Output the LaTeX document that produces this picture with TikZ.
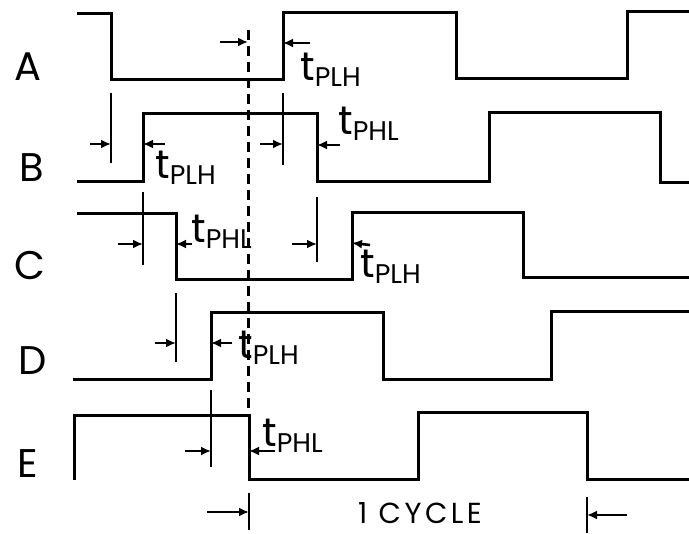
\documentclass[tikz,border=0pt]{standalone}
\usepackage{fontspec}
\setmainfont{Poppins}
\usetikzlibrary{arrows.meta}
\begin{document}
\begin{tikzpicture}[x=1pt,y=-1pt,
  wave/.style={line width=3pt,line join=miter},
  tick/.style={line width=2.6pt},
  meas/.style={line width=2.6pt,-{Latex[length=10pt,width=9pt]}},
  sig/.style={font=\fontsize{40}{40}\selectfont,inner sep=0pt},
  tlab/.style={anchor=west,inner sep=0pt,font=\fontsize{40}{40}\selectfont},
  cyc/.style={font=\fontsize{29}{29}\selectfont\addfontfeatures{LetterSpace=12},inner sep=0pt}]
\useasboundingbox (0,0) rectangle (689,534);
\fill[white] (0,0) rectangle (689,534);
\newcommand{\tp}[1]{t\raisebox{-0.16em}{\fontsize{27}{27}\selectfont #1}}
% signal names
\node[sig] (lA) at (28,67) {A};
\node[sig] (lB) at (32,168) {B};
\node[sig] (lC) at (30,266) {C};
\node[sig] (lD) at (33,361) {D};
\node[sig] (lE) at (28,464) {E};
% waveforms
\draw[wave] (77,14) -- (111,14) -- (111,80) -- (283,80) -- (283,13) -- (456,13) -- (456,79) -- (627,79) -- (627,12) -- (689,12);
\draw[wave] (77,182) -- (143,182) -- (143,114) -- (317,114) -- (317,182) -- (489,182) -- (489,113) -- (660,113) -- (660,183) -- (689,183);
\draw[wave] (77,214) -- (176,214) -- (176,280) -- (352,280) -- (352,213) -- (523,213) -- (523,278) -- (689,278);
\draw[wave] (73,380) -- (211,380) -- (211,313) -- (383,313) -- (383,380) -- (551,380) -- (551,312) -- (689,312);
\draw[wave] (74,480) -- (74,416) -- (249,416) -- (249,480) -- (418,480) -- (418,413) -- (587,413) -- (587,480) -- (689,480);
% dashed reference line
\coordinate (dT) at (248,30);
\coordinate (dB) at (248,412);
\draw[line width=3pt,dash pattern=on 10pt off 6pt] (dT) -- (dB);
% ticks
\coordinate (t1a) at (111,93);  \coordinate (t1b) at (111,163);
\coordinate (t2a) at (283,93);  \coordinate (t2b) at (283,165);
\coordinate (t3a) at (143,192); \coordinate (t3b) at (143,265);
\coordinate (t4a) at (317,197); \coordinate (t4b) at (317,262);
\coordinate (t5a) at (176,293); \coordinate (t5b) at (176,362);
\coordinate (t6a) at (211,390); \coordinate (t6b) at (211,467);
\coordinate (t7a) at (249,493); \coordinate (t7b) at (249,530);
\coordinate (t8a) at (587,497); \coordinate (t8b) at (587,533);
\foreach \i in {1,...,8} \draw[tick] (t\i a) -- (t\i b);
% measurement arrows
\coordinate (a1s) at (220,42);  \coordinate (a1e) at (248,42);
\coordinate (a2s) at (310,43);  \coordinate (a2e) at (283,43);
\coordinate (a3s) at (90,144);  \coordinate (a3e) at (111,144);
\coordinate (a4s) at (165,144); \coordinate (a4e) at (143,144);
\coordinate (a5s) at (260,144); \coordinate (a5e) at (283,144);
\coordinate (a6s) at (340,145); \coordinate (a6e) at (317,145);
\coordinate (a7s) at (118,244); \coordinate (a7e) at (143,244);
\coordinate (a8s) at (192,244); \coordinate (a8e) at (176,244);
\coordinate (a9s) at (292,244); \coordinate (a9e) at (317,244);
\coordinate (a10s) at (370,245); \coordinate (a10e) at (352,243);
\coordinate (a11s) at (155,343); \coordinate (a11e) at (176,343);
\coordinate (a12s) at (232,343); \coordinate (a12e) at (211,343);
\coordinate (a13s) at (185,451); \coordinate (a13e) at (211,451);
\coordinate (a14s) at (275,451); \coordinate (a14e) at (249,451);
\coordinate (a15s) at (207,512); \coordinate (a15e) at (249,512);
\coordinate (a16s) at (627,515); \coordinate (a16e) at (587,515);
\foreach \i in {1,...,16} \draw[meas] (a\i s) -- (a\i e);
% delay labels
\node[tlab] (n1) at (300,70) {\tp{PLH}};
\node[tlab] (n2) at (155,168) {\tp{PLH}};
\node[tlab] (n3) at (338,124) {\tp{PHL}};
\node[tlab] (n4) at (191,232) {\tp{PHL}};
\node[tlab] (n5) at (360,267) {\tp{PLH}};
\node[tlab] (n6) at (238,348) {\tp{PLH}};
\node[tlab] (n7) at (262,436) {\tp{PHL}};
\node[cyc] (n8) at (420,513) {1\ CYCLE};
\end{tikzpicture}
\end{document}
